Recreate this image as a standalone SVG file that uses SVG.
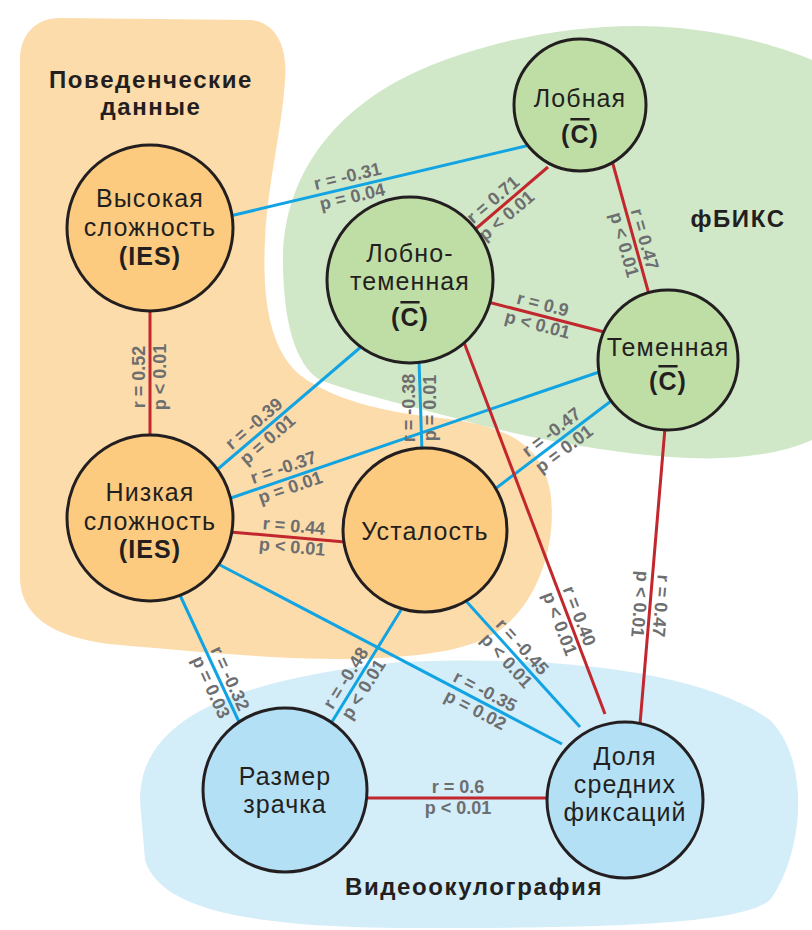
<svg xmlns="http://www.w3.org/2000/svg" width="812" height="930" viewBox="0 0 812 930">
<style>
.bg{fill:#fff}
.edge{stroke-width:3;fill:none}
.red{stroke:#c1272d}
.blue{stroke:#12a4e2}
.node{stroke:#231f20;stroke-width:3}
.or{fill:#fdcb7f}
.gr{fill:#bfdea6}
.bl{fill:#b4e0f6}
.nt{font-family:"Liberation Sans",Arial,sans-serif;font-size:25px;letter-spacing:1.1px;fill:#231f20;text-anchor:middle}
.nb{font-weight:bold}
.lab{font-family:"Liberation Sans",Arial,sans-serif;font-size:18px;font-weight:bold;fill:#6d6e70;text-anchor:middle}
.ttl{font-family:"Liberation Sans",Arial,sans-serif;font-size:24px;letter-spacing:1.6px;font-weight:bold;fill:#231f20;text-anchor:middle}
</style>
<rect class="bg" x="0" y="0" width="812" height="930"/>
<g id="regions">
<path id="region-behavior" fill="#fcdcab" d="M 60,18 L 250,20 C 275,22 288,45 285,80 C 282,130 268,180 265,240 C 262,300 270,350 300,375 C 330,398 380,412 440,418 C 500,425 540,440 550,490 C 558,540 540,600 500,630 C 470,650 430,655 380,658 C 300,662 200,652 120,645 C 60,640 22,620 20,580 L 20,60 C 20,35 35,18 60,18 Z"/>
<path id="region-fnirs" fill="#d0e8c8" d="M 283,260 C 283,180 330,110 420,70 C 500,35 600,20 680,28 C 760,36 812,60 812,60 L 812,440 C 780,455 730,460 690,458 C 620,455 540,440 480,425 C 420,408 360,395 320,380 C 295,365 283,320 283,260 Z"/>
<path id="region-eye" fill="#d3edf9" d="M 140,800 C 140,720 230,680 400,662 C 550,655 700,670 770,720 C 810,760 805,850 770,900 C 740,925 600,928 420,928 C 250,928 160,910 145,860 Z"/>
<text class="ttl" x="151" y="88">Поведенческие<tspan x="151" dy="27">данные</tspan></text>
<text class="ttl" x="738" y="227">фБИКС</text>
<text class="ttl" x="474" y="895">Видеоокулография</text>
</g>
<g id="connectors">
<line class="edge blue" x1="230" y1="216" x2="530" y2="145"/>
<line class="edge red" x1="150" y1="305" x2="150" y2="440"/>
<line class="edge red" x1="465" y1="238" x2="548" y2="167"/>
<line class="edge red" x1="611" y1="157" x2="650" y2="298"/>
<line class="edge red" x1="488" y1="302" x2="608" y2="333"/>
<line class="edge blue" x1="362" y1="346" x2="212" y2="474"/>
<line class="edge blue" x1="605" y1="370" x2="228" y2="499"/>
<line class="edge blue" x1="419" y1="360" x2="422" y2="452"/>
<line class="edge blue" x1="615" y1="398" x2="495" y2="489"/>
<line class="edge red" x1="230" y1="532" x2="345" y2="542"/>
<line class="edge blue" x1="179" y1="593" x2="240" y2="724"/>
<line class="edge blue" x1="401" y1="610" x2="330" y2="725"/>
<line class="edge blue" x1="466" y1="601" x2="580" y2="727"/>
<line class="edge blue" x1="220" y1="565" x2="562" y2="744"/>
<line class="edge red" x1="462" y1="337" x2="605" y2="714"/>
<line class="edge red" x1="665" y1="428" x2="640" y2="724"/>
<line class="edge red" x1="365" y1="798" x2="548" y2="798"/>
</g>
<g id="edge-labels">
<g transform="translate(350,187) rotate(-13.3)"><text class="lab" y="-5">r = -0.31<tspan x="0" dy="21">p = 0.04</tspan></text></g>
<g transform="translate(500,208) rotate(-40.3)"><text class="lab" y="-5">r = 0.71<tspan x="0" dy="21">p &lt; 0.01</tspan></text></g>
<g transform="translate(634,242) rotate(74.5)"><text class="lab" y="-5">r = 0.47<tspan x="0" dy="21">p &lt; 0.01</tspan></text></g>
<g transform="translate(540,315) rotate(14.6)"><text class="lab" y="-5">r = 0.9<tspan x="0" dy="21">p &lt; 0.01</tspan></text></g>
<g transform="translate(150,377) rotate(-90)"><text class="lab" y="-5">r = 0.52<tspan x="0" dy="21">p &lt; 0.01</tspan></text></g>
<g transform="translate(261,432) rotate(-40.6)"><text class="lab" y="-5">r = -0.39<tspan x="0" dy="21">p = 0.01</tspan></text></g>
<g transform="translate(287,478) rotate(-18.9)"><text class="lab" y="-5">r = -0.37<tspan x="0" dy="21">p = 0.01</tspan></text></g>
<g transform="translate(420,408) rotate(-90)"><text class="lab" y="-5">r = -0.38<tspan x="0" dy="21">p = 0.01</tspan></text></g>
<g transform="translate(558,441) rotate(-37.1)"><text class="lab" y="-5">r = -0.47<tspan x="0" dy="21">p = 0.01</tspan></text></g>
<g transform="translate(293,537) rotate(5.1)"><text class="lab" y="-5">r = 0.44<tspan x="0" dy="21">p &lt; 0.01</tspan></text></g>
<g transform="translate(220,683) rotate(65.3)"><text class="lab" y="-5">r = -0.32<tspan x="0" dy="21">p = 0.03</tspan></text></g>
<g transform="translate(355,684) rotate(-57.8)"><text class="lab" y="-5">r = -0.48<tspan x="0" dy="21">p &lt; 0.01</tspan></text></g>
<g transform="translate(514,654) rotate(48)"><text class="lab" y="-5">r = -0.45<tspan x="0" dy="21">p &lt; 0.01</tspan></text></g>
<g transform="translate(480,701) rotate(27.6)"><text class="lab" y="-5">r = -0.35<tspan x="0" dy="21">p = 0.02</tspan></text></g>
<g transform="translate(569,620) rotate(69)"><text class="lab" y="-5">r = 0.40<tspan x="0" dy="21">p &lt; 0.01</tspan></text></g>
<g transform="translate(650,605) rotate(94.9)"><text class="lab" y="-5">r = 0.47<tspan x="0" dy="21">p &lt; 0.01</tspan></text></g>
<g transform="translate(458,798)"><text class="lab" y="-5">r = 0.6<tspan x="0" dy="21">p &lt; 0.01</tspan></text></g>
</g>
<g id="node-high">
<circle class="node or" cx="150" cy="228" r="83"/>
<text class="nt" x="150" y="207">Высокая<tspan x="150" dy="29">сложность</tspan><tspan class="nb" x="150" dy="29">(IES)</tspan></text>
</g>
<g id="node-low">
<circle class="node or" cx="150" cy="518" r="83"/>
<text class="nt" x="150" y="501">Низкая<tspan x="150" dy="29">сложность</tspan><tspan class="nb" x="150" dy="28">(IES)</tspan></text>
</g>
<g id="node-fatigue">
<circle class="node or" cx="425" cy="530" r="82"/>
<text class="nt" x="425" y="540">Усталость</text>
</g>
<g id="node-frontal">
<circle class="node gr" cx="580" cy="105" r="66"/>
<text class="nt" x="580" y="107">Лобная<tspan class="nb" x="580" dy="36">(<tspan text-decoration="overline">C</tspan>)</tspan></text>
</g>
<g id="node-frontoparietal">
<circle class="node gr" cx="410" cy="280" r="83"/>
<text class="nt" x="410" y="262">Лобно-<tspan x="410" dy="28">теменная</tspan><tspan class="nb" x="410" dy="36">(<tspan text-decoration="overline">C</tspan>)</tspan></text>
</g>
<g id="node-parietal">
<circle class="node gr" cx="668" cy="360" r="70"/>
<text class="nt" x="668" y="356">Теменная<tspan class="nb" x="668" dy="34">(<tspan text-decoration="overline">C</tspan>)</tspan></text>
</g>
<g id="node-pupil">
<circle class="node bl" cx="285" cy="790" r="82"/>
<text class="nt" x="285" y="785">Размер<tspan x="285" dy="28">зрачка</tspan></text>
</g>
<g id="node-fixations">
<circle class="node bl" cx="625" cy="800" r="78"/>
<text class="nt" x="625" y="765">Доля<tspan x="625" dy="28">средних</tspan><tspan x="625" dy="28">фиксаций</tspan></text>
</g>
</svg>
